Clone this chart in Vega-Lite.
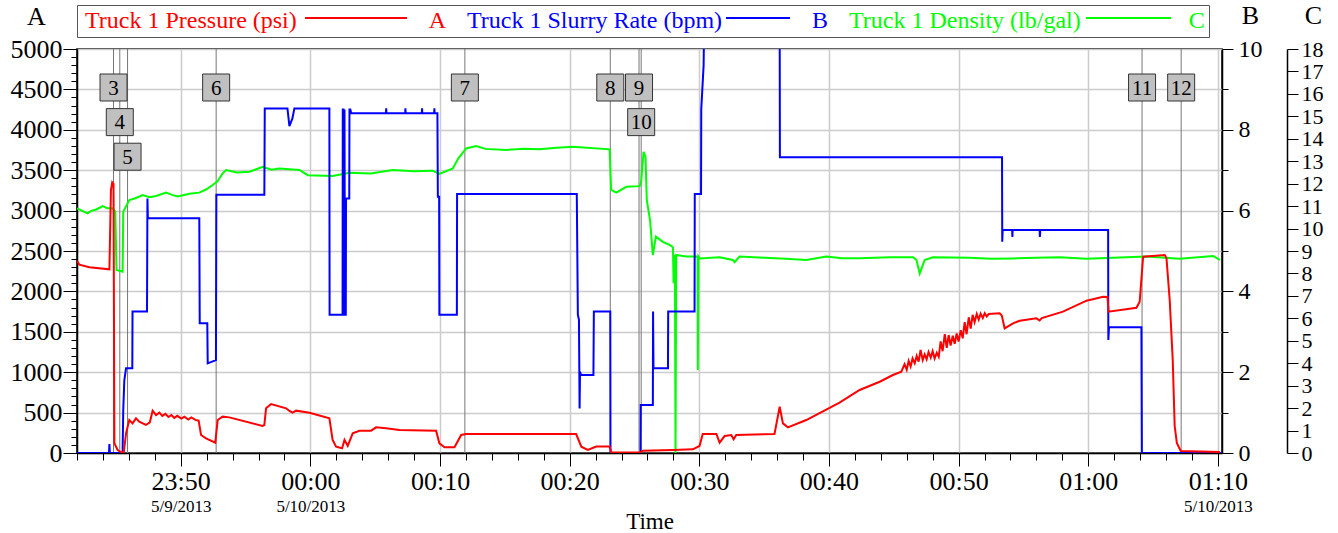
{
  "$schema": "https://vega.github.io/schema/vega-lite/v6.json",
  "width": 1145,
  "height": 404,
  "autosize": {"type": "none"},
  "padding": {"left": 77, "top": 49, "right": 116, "bottom": 80},
  "background": "white",
  "config": {
    "font": "Liberation Serif",
    "view": {"stroke": "black", "strokeWidth": 1.5},
    "axis": {
      "labelFont": "Liberation Serif", "titleFont": "Liberation Serif",
      "labelColor": "black", "titleColor": "black", "domainColor": "black", "tickColor": "black",
      "titleFontWeight": "normal", "labelOverlap": false, "labelFlush": false,
      "domainWidth": 1.5, "tickWidth": 1, "gridColor": "#cccccc", "gridWidth": 1.5
    },
    "legend": {"labelFont": "Liberation Serif"}
  },
  "datasets": {
    "pressure": [
      {"t":"2013-05-09T23:42:00","v":2380},{"t":"2013-05-09T23:42:11","v":2330},{"t":"2013-05-09T23:42:57","v":2298},
      {"t":"2013-05-09T23:44:30","v":2273},{"t":"2013-05-09T23:44:37","v":3250},{"t":"2013-05-09T23:44:43","v":3350},
      {"t":"2013-05-09T23:44:49","v":3330},{"t":"2013-05-09T23:44:53","v":120},{"t":"2013-05-09T23:45:08","v":37},
      {"t":"2013-05-09T23:45:30","v":0},{"t":"2013-05-09T23:45:37","v":20},{"t":"2013-05-09T23:45:47","v":243},
      {"t":"2013-05-09T23:46:02","v":408},{"t":"2013-05-09T23:46:17","v":367},{"t":"2013-05-09T23:46:33","v":429},
      {"t":"2013-05-09T23:46:48","v":388},{"t":"2013-05-09T23:47:19","v":347},{"t":"2013-05-09T23:47:37","v":380},
      {"t":"2013-05-09T23:47:50","v":524},{"t":"2013-05-09T23:48:06","v":470},{"t":"2013-05-09T23:48:21","v":499},
      {"t":"2013-05-09T23:48:35","v":460},{"t":"2013-05-09T23:48:49","v":485},{"t":"2013-05-09T23:49:03","v":445},
      {"t":"2013-05-09T23:49:17","v":470},{"t":"2013-05-09T23:49:30","v":435},{"t":"2013-05-09T23:49:44","v":460},
      {"t":"2013-05-09T23:50:03","v":425},{"t":"2013-05-09T23:50:17","v":450},{"t":"2013-05-09T23:50:35","v":415},
      {"t":"2013-05-09T23:50:49","v":440},{"t":"2013-05-09T23:51:08","v":410},{"t":"2013-05-09T23:51:23","v":400},
      {"t":"2013-05-09T23:51:34","v":223},{"t":"2013-05-09T23:51:57","v":182},{"t":"2013-05-09T23:52:40","v":128},
      {"t":"2013-05-09T23:52:51","v":408},{"t":"2013-05-09T23:53:14","v":450},{"t":"2013-05-09T23:53:45","v":441},
      {"t":"2013-05-09T23:56:19","v":334},{"t":"2013-05-09T23:56:27","v":345},{"t":"2013-05-09T23:56:35","v":553},
      {"t":"2013-05-09T23:56:58","v":606},{"t":"2013-05-09T23:58:08","v":553},{"t":"2013-05-09T23:58:23","v":520},
      {"t":"2013-05-09T23:58:38","v":499},{"t":"2013-05-09T23:58:54","v":524},{"t":"2013-05-09T23:59:56","v":499},
      {"t":"2013-05-10T00:01:28","v":429},{"t":"2013-05-10T00:01:43","v":161},{"t":"2013-05-10T00:01:59","v":78},
      {"t":"2013-05-10T00:02:27","v":58},{"t":"2013-05-10T00:02:38","v":161},{"t":"2013-05-10T00:02:53","v":87},
      {"t":"2013-05-10T00:03:16","v":243},{"t":"2013-05-10T00:03:47","v":276},{"t":"2013-05-10T00:04:41","v":276},
      {"t":"2013-05-10T00:05:04","v":318},{"t":"2013-05-10T00:05:51","v":305},{"t":"2013-05-10T00:06:52","v":285},
      {"t":"2013-05-10T00:09:42","v":276},{"t":"2013-05-10T00:09:57","v":120},{"t":"2013-05-10T00:10:21","v":70},
      {"t":"2013-05-10T00:11:07","v":70},{"t":"2013-05-10T00:11:38","v":223},{"t":"2013-05-10T00:12:01","v":235},
      {"t":"2013-05-10T00:20:30","v":235},{"t":"2013-05-10T00:20:54","v":78},{"t":"2013-05-10T00:21:24","v":37},
      {"t":"2013-05-10T00:22:03","v":80},{"t":"2013-05-10T00:23:05","v":80},{"t":"2013-05-10T00:23:12","v":10},
      {"t":"2013-05-10T00:25:24","v":5},{"t":"2013-05-10T00:25:39","v":28},{"t":"2013-05-10T00:27:58","v":37},
      {"t":"2013-05-10T00:29:30","v":45},{"t":"2013-05-10T00:30:01","v":87},{"t":"2013-05-10T00:30:16","v":235},
      {"t":"2013-05-10T00:31:19","v":235},{"t":"2013-05-10T00:31:34","v":128},{"t":"2013-05-10T00:31:57","v":210},
      {"t":"2013-05-10T00:32:28","v":223},{"t":"2013-05-10T00:32:39","v":169},{"t":"2013-05-10T00:32:51","v":223},
      {"t":"2013-05-10T00:35:48","v":235},{"t":"2013-05-10T00:36:12","v":573},{"t":"2013-05-10T00:36:27","v":367},
      {"t":"2013-05-10T00:36:50","v":318},{"t":"2013-05-10T00:38:15","v":408},{"t":"2013-05-10T00:40:49","v":623},
      {"t":"2013-05-10T00:42:22","v":780},{"t":"2013-05-10T00:43:55","v":882},{"t":"2013-05-10T00:44:56","v":965},
      {"t":"2013-05-10T00:45:35","v":1006},
      {"t":"2013-05-10T00:45:50","v":1100},{"t":"2013-05-10T00:46:00","v":1030},{"t":"2013-05-10T00:46:09","v":1140},
      {"t":"2013-05-10T00:46:18","v":1070},{"t":"2013-05-10T00:46:27","v":1170},{"t":"2013-05-10T00:46:37","v":1110},
      {"t":"2013-05-10T00:46:46","v":1200},{"t":"2013-05-10T00:46:55","v":1130},{"t":"2013-05-10T00:47:04","v":1275},
      {"t":"2013-05-10T00:47:14","v":1150},{"t":"2013-05-10T00:47:23","v":1220},{"t":"2013-05-10T00:47:32","v":1160},
      {"t":"2013-05-10T00:47:41","v":1250},{"t":"2013-05-10T00:47:51","v":1180},{"t":"2013-05-10T00:48:00","v":1260},
      {"t":"2013-05-10T00:48:09","v":1170},{"t":"2013-05-10T00:48:19","v":1240},{"t":"2013-05-10T00:48:28","v":1190},
      {"t":"2013-05-10T00:48:37","v":1380},{"t":"2013-05-10T00:48:46","v":1260},{"t":"2013-05-10T00:48:56","v":1470},
      {"t":"2013-05-10T00:49:05","v":1300},{"t":"2013-05-10T00:49:14","v":1460},{"t":"2013-05-10T00:49:23","v":1330},
      {"t":"2013-05-10T00:49:33","v":1450},{"t":"2013-05-10T00:49:42","v":1350},{"t":"2013-05-10T00:49:51","v":1480},
      {"t":"2013-05-10T00:50:00","v":1380},{"t":"2013-05-10T00:50:10","v":1520},{"t":"2013-05-10T00:50:19","v":1420},
      {"t":"2013-05-10T00:50:28","v":1620},{"t":"2013-05-10T00:50:37","v":1470},{"t":"2013-05-10T00:50:47","v":1680},
      {"t":"2013-05-10T00:50:56","v":1540},{"t":"2013-05-10T00:51:05","v":1710},{"t":"2013-05-10T00:51:14","v":1620},
      {"t":"2013-05-10T00:51:24","v":1720},{"t":"2013-05-10T00:51:33","v":1650},{"t":"2013-05-10T00:51:42","v":1725},
      {"t":"2013-05-10T00:51:52","v":1670},{"t":"2013-05-10T00:52:01","v":1730},{"t":"2013-05-10T00:52:10","v":1690},
      {"t":"2013-05-10T00:52:19","v":1720},
      {"t":"2013-05-10T00:53:10","v":1729},{"t":"2013-05-10T00:53:20","v":1700},{"t":"2013-05-10T00:53:33","v":1543},
      {"t":"2013-05-10T00:54:12","v":1605},{"t":"2013-05-10T00:54:43","v":1637},{"t":"2013-05-10T00:56:00","v":1667},
      {"t":"2013-05-10T00:56:15","v":1640},{"t":"2013-05-10T00:56:25","v":1670},{"t":"2013-05-10T00:58:03","v":1749},
      {"t":"2013-05-10T00:59:52","v":1885},{"t":"2013-05-10T01:01:09","v":1934},{"t":"2013-05-10T01:01:29","v":1930},
      {"t":"2013-05-10T01:01:34","v":1749},{"t":"2013-05-10T01:03:43","v":1798},{"t":"2013-05-10T01:03:58","v":1872},
      {"t":"2013-05-10T01:04:14","v":2429},{"t":"2013-05-10T01:05:54","v":2450},{"t":"2013-05-10T01:06:02","v":2413},
      {"t":"2013-05-10T01:06:17","v":1893},{"t":"2013-05-10T01:06:31","v":1151},{"t":"2013-05-10T01:06:40","v":334},
      {"t":"2013-05-10T01:06:50","v":124},{"t":"2013-05-10T01:07:08","v":25},{"t":"2013-05-10T01:10:09","v":12}
    ],
    "rate": [
      {"t":"2013-05-09T23:42:00","v":0},{"t":"2013-05-09T23:44:28","v":0},{"t":"2013-05-09T23:44:30","v":0.22},
      {"t":"2013-05-09T23:44:32","v":0},{"t":"2013-05-09T23:45:31","v":0},{"t":"2013-05-09T23:45:34","v":1.06},
      {"t":"2013-05-09T23:45:39","v":1.8},{"t":"2013-05-09T23:45:47","v":2.1},{"t":"2013-05-09T23:46:16","v":2.1},
      {"t":"2013-05-09T23:46:17","v":3.5},{"t":"2013-05-09T23:47:24","v":3.5},{"t":"2013-05-09T23:47:26","v":6.3},
      {"t":"2013-05-09T23:47:28","v":5.81},{"t":"2013-05-09T23:51:26","v":5.81},{"t":"2013-05-09T23:51:28","v":3.21},
      {"t":"2013-05-09T23:52:03","v":3.21},{"t":"2013-05-09T23:52:05","v":2.22},{"t":"2013-05-09T23:52:43","v":2.3},
      {"t":"2013-05-09T23:52:45","v":6.39},{"t":"2013-05-09T23:56:27","v":6.39},{"t":"2013-05-09T23:56:29","v":8.53},
      {"t":"2013-05-09T23:58:14","v":8.53},{"t":"2013-05-09T23:58:23","v":8.09},{"t":"2013-05-09T23:58:37","v":8.28},
      {"t":"2013-05-09T23:58:46","v":8.53},{"t":"2013-05-10T00:01:28","v":8.53},{"t":"2013-05-10T00:01:29","v":3.42},
      {"t":"2013-05-10T00:02:29","v":3.42},{"t":"2013-05-10T00:02:30","v":8.5},{"t":"2013-05-10T00:02:33","v":8.5},
      {"t":"2013-05-10T00:02:34","v":3.42},{"t":"2013-05-10T00:02:37","v":3.42},{"t":"2013-05-10T00:02:38","v":8.5},
      {"t":"2013-05-10T00:02:40","v":3.42},{"t":"2013-05-10T00:02:44","v":3.42},{"t":"2013-05-10T00:02:45","v":6.3},
      {"t":"2013-05-10T00:03:00","v":6.3},{"t":"2013-05-10T00:03:01","v":8.5},{"t":"2013-05-10T00:03:05","v":8.5},
      {"t":"2013-05-10T00:03:09","v":8.41},{"t":"2013-05-10T00:05:50","v":8.41},{"t":"2013-05-10T00:05:51","v":8.53},
      {"t":"2013-05-10T00:05:52","v":8.41},{"t":"2013-05-10T00:07:19","v":8.41},{"t":"2013-05-10T00:07:20","v":8.53},
      {"t":"2013-05-10T00:07:21","v":8.41},{"t":"2013-05-10T00:08:36","v":8.41},{"t":"2013-05-10T00:08:37","v":8.53},
      {"t":"2013-05-10T00:08:38","v":8.41},{"t":"2013-05-10T00:09:33","v":8.41},{"t":"2013-05-10T00:09:34","v":8.53},
      {"t":"2013-05-10T00:09:35","v":8.41},{"t":"2013-05-10T00:09:48","v":8.41},{"t":"2013-05-10T00:09:50","v":6.34},
      {"t":"2013-05-10T00:09:56","v":6.34},{"t":"2013-05-10T00:09:57","v":3.42},{"t":"2013-05-10T00:11:18","v":3.42},
      {"t":"2013-05-10T00:11:19","v":6.41},{"t":"2013-05-10T00:20:33","v":6.41},{"t":"2013-05-10T00:20:38","v":3.42},
      {"t":"2013-05-10T00:20:43","v":3.3},{"t":"2013-05-10T00:20:46","v":1.1},{"t":"2013-05-10T00:20:48","v":2.01},
      {"t":"2013-05-10T00:20:53","v":1.93},{"t":"2013-05-10T00:21:50","v":1.93},{"t":"2013-05-10T00:21:52","v":3.5},
      {"t":"2013-05-10T00:23:08","v":3.5},{"t":"2013-05-10T00:23:09","v":0},{"t":"2013-05-10T00:25:28","v":0},
      {"t":"2013-05-10T00:25:29","v":1.19},{"t":"2013-05-10T00:26:25","v":1.19},{"t":"2013-05-10T00:26:26","v":3.5},
      {"t":"2013-05-10T00:26:28","v":2.1},{"t":"2013-05-10T00:27:35","v":2.1},{"t":"2013-05-10T00:27:36","v":3.5},
      {"t":"2013-05-10T00:29:38","v":3.5},{"t":"2013-05-10T00:29:39","v":6.41},{"t":"2013-05-10T00:30:08","v":6.41},
      {"t":"2013-05-10T00:30:09","v":8.5},{"t":"2013-05-10T00:30:20","v":9.6},{"t":"2013-05-10T00:30:22","v":10.6},
      {"t":"2013-05-10T00:36:12","v":10.6},{"t":"2013-05-10T00:36:13","v":7.32},{"t":"2013-05-10T00:53:21","v":7.32},
      {"t":"2013-05-10T00:53:22","v":5.23},{"t":"2013-05-10T00:53:24","v":5.52},{"t":"2013-05-10T00:54:08","v":5.52},
      {"t":"2013-05-10T00:54:09","v":5.35},{"t":"2013-05-10T00:54:10","v":5.52},{"t":"2013-05-10T00:56:15","v":5.52},
      {"t":"2013-05-10T00:56:16","v":5.35},{"t":"2013-05-10T00:56:18","v":5.52},{"t":"2013-05-10T01:01:32","v":5.52},
      {"t":"2013-05-10T01:01:33","v":2.8},{"t":"2013-05-10T01:01:36","v":3.11},{"t":"2013-05-10T01:04:06","v":3.11},
      {"t":"2013-05-10T01:04:08","v":0},{"t":"2013-05-10T01:10:19","v":0}
    ],
    "density": [
      {"t":"2013-05-09T23:42:00","v":10.9},{"t":"2013-05-09T23:42:49","v":10.68},{"t":"2013-05-09T23:43:05","v":10.79},
      {"t":"2013-05-09T23:43:29","v":10.85},{"t":"2013-05-09T23:43:59","v":11.0},{"t":"2013-05-09T23:44:20","v":10.9},
      {"t":"2013-05-09T23:44:45","v":10.9},{"t":"2013-05-09T23:44:57","v":10.75},{"t":"2013-05-09T23:45:03","v":8.15},
      {"t":"2013-05-09T23:45:31","v":8.08},{"t":"2013-05-09T23:45:34","v":10.75},{"t":"2013-05-09T23:46:02","v":11.27},
      {"t":"2013-05-09T23:46:30","v":11.35},{"t":"2013-05-09T23:47:04","v":11.49},{"t":"2013-05-09T23:47:35","v":11.4},
      {"t":"2013-05-09T23:48:06","v":11.45},{"t":"2013-05-09T23:48:52","v":11.6},{"t":"2013-05-09T23:49:20","v":11.5},
      {"t":"2013-05-09T23:49:46","v":11.43},{"t":"2013-05-09T23:50:40","v":11.55},{"t":"2013-05-09T23:51:26","v":11.6},
      {"t":"2013-05-09T23:51:59","v":11.75},{"t":"2013-05-09T23:52:28","v":11.94},{"t":"2013-05-09T23:52:50","v":12.1},
      {"t":"2013-05-09T23:53:14","v":12.46},{"t":"2013-05-09T23:53:30","v":12.61},{"t":"2013-05-09T23:54:20","v":12.5},
      {"t":"2013-05-09T23:55:18","v":12.53},{"t":"2013-05-09T23:56:19","v":12.75},{"t":"2013-05-09T23:57:00","v":12.62},
      {"t":"2013-05-09T23:57:37","v":12.68},{"t":"2013-05-09T23:59:09","v":12.61},{"t":"2013-05-09T23:59:48","v":12.38},
      {"t":"2013-05-10T00:01:43","v":12.34},{"t":"2013-05-10T00:03:01","v":12.49},{"t":"2013-05-10T00:04:40","v":12.45},
      {"t":"2013-05-10T00:06:21","v":12.61},{"t":"2013-05-10T00:08:00","v":12.55},{"t":"2013-05-10T00:09:26","v":12.58},
      {"t":"2013-05-10T00:09:57","v":12.43},{"t":"2013-05-10T00:10:59","v":12.68},{"t":"2013-05-10T00:11:25","v":13.13},
      {"t":"2013-05-10T00:12:01","v":13.57},{"t":"2013-05-10T00:12:47","v":13.68},{"t":"2013-05-10T00:13:30","v":13.55},
      {"t":"2013-05-10T00:15:06","v":13.5},{"t":"2013-05-10T00:16:30","v":13.56},{"t":"2013-05-10T00:17:40","v":13.53},
      {"t":"2013-05-10T00:19:00","v":13.6},{"t":"2013-05-10T00:20:15","v":13.65},{"t":"2013-05-10T00:23:05","v":13.53},
      {"t":"2013-05-10T00:23:12","v":11.72},{"t":"2013-05-10T00:23:36","v":11.6},{"t":"2013-05-10T00:24:22","v":11.86},
      {"t":"2013-05-10T00:25:24","v":11.89},{"t":"2013-05-10T00:25:31","v":12.1},{"t":"2013-05-10T00:25:42","v":13.42},
      {"t":"2013-05-10T00:25:51","v":13.2},{"t":"2013-05-10T00:25:57","v":11.27},{"t":"2013-05-10T00:26:02","v":10.97},
      {"t":"2013-05-10T00:26:12","v":10.38},{"t":"2013-05-10T00:26:25","v":8.82},{"t":"2013-05-10T00:26:39","v":9.64},
      {"t":"2013-05-10T00:27:11","v":9.41},{"t":"2013-05-10T00:27:42","v":9.27},{"t":"2013-05-10T00:27:55","v":9.19},
      {"t":"2013-05-10T00:27:58","v":9.15},{"t":"2013-05-10T00:28:01","v":7.56},{"t":"2013-05-10T00:28:07","v":8.82},
      {"t":"2013-05-10T00:28:10","v":0},{"t":"2013-05-10T00:28:13","v":8.82},{"t":"2013-05-10T00:29:00","v":8.75},
      {"t":"2013-05-10T00:29:52","v":8.75},{"t":"2013-05-10T00:29:53","v":3.7},{"t":"2013-05-10T00:29:56","v":8.75},
      {"t":"2013-05-10T00:30:01","v":8.67},{"t":"2013-05-10T00:31:34","v":8.72},{"t":"2013-05-10T00:32:35","v":8.6},
      {"t":"2013-05-10T00:32:43","v":8.5},{"t":"2013-05-10T00:33:06","v":8.75},{"t":"2013-05-10T00:35:05","v":8.7},
      {"t":"2013-05-10T00:36:40","v":8.66},{"t":"2013-05-10T00:38:15","v":8.6},{"t":"2013-05-10T00:39:48","v":8.75},
      {"t":"2013-05-10T00:41:00","v":8.68},{"t":"2013-05-10T00:42:22","v":8.68},{"t":"2013-05-10T00:44:41","v":8.72},
      {"t":"2013-05-10T00:46:29","v":8.72},{"t":"2013-05-10T00:46:45","v":8.6},{"t":"2013-05-10T00:47:00","v":8.0},
      {"t":"2013-05-10T00:47:23","v":8.6},{"t":"2013-05-10T00:48:01","v":8.72},{"t":"2013-05-10T00:50:51","v":8.7},
      {"t":"2013-05-10T00:52:30","v":8.65},{"t":"2013-05-10T00:54:12","v":8.67},{"t":"2013-05-10T00:56:00","v":8.7},
      {"t":"2013-05-10T00:57:48","v":8.72},{"t":"2013-05-10T00:59:50","v":8.66},{"t":"2013-05-10T01:01:55","v":8.7},
      {"t":"2013-05-10T01:04:29","v":8.75},{"t":"2013-05-10T01:07:04","v":8.65},{"t":"2013-05-10T01:09:38","v":8.78},
      {"t":"2013-05-10T01:10:09","v":8.6}
    ],
    "events": [
      {"t":"2013-05-09T23:44:49","label":"3","level":1},
      {"t":"2013-05-09T23:45:18","label":"4","level":2},
      {"t":"2013-05-09T23:45:54","label":"5","level":3},
      {"t":"2013-05-09T23:52:44","label":"6","level":1},
      {"t":"2013-05-10T00:11:55","label":"7","level":1},
      {"t":"2013-05-10T00:23:08","label":"8","level":1},
      {"t":"2013-05-10T00:25:21","label":"9","level":1},
      {"t":"2013-05-10T00:25:31","label":"10","level":2},
      {"t":"2013-05-10T01:04:09","label":"11","level":1},
      {"t":"2013-05-10T01:07:10","label":"12","level":1}
    ]
  },
  "layer": [
    {
      "data": {"name": "events"},
      "mark": {"type": "rule", "color": "#777777", "strokeWidth": 1},
      "encoding": {
        "x": {"field": "t", "type": "temporal",
              "scale": {"domain": [{"year":2013,"month":5,"date":9,"hours":23,"minutes":42},{"year":2013,"month":5,"date":10,"hours":1,"minutes":10,"seconds":19}], "nice": false},
              "axis": {"orient": "bottom", "values": [
                         {"year":2013,"month":5,"date":9,"hours":23,"minutes":42},{"year":2013,"month":5,"date":9,"hours":23,"minutes":44},
                         {"year":2013,"month":5,"date":9,"hours":23,"minutes":46},{"year":2013,"month":5,"date":9,"hours":23,"minutes":48},
                         {"year":2013,"month":5,"date":9,"hours":23,"minutes":50},{"year":2013,"month":5,"date":9,"hours":23,"minutes":52},
                         {"year":2013,"month":5,"date":9,"hours":23,"minutes":54},{"year":2013,"month":5,"date":9,"hours":23,"minutes":56},
                         {"year":2013,"month":5,"date":9,"hours":23,"minutes":58},{"year":2013,"month":5,"date":10,"hours":0,"minutes":0},
                         {"year":2013,"month":5,"date":10,"hours":0,"minutes":2},{"year":2013,"month":5,"date":10,"hours":0,"minutes":4},
                         {"year":2013,"month":5,"date":10,"hours":0,"minutes":6},{"year":2013,"month":5,"date":10,"hours":0,"minutes":8},
                         {"year":2013,"month":5,"date":10,"hours":0,"minutes":10},{"year":2013,"month":5,"date":10,"hours":0,"minutes":12},
                         {"year":2013,"month":5,"date":10,"hours":0,"minutes":14},{"year":2013,"month":5,"date":10,"hours":0,"minutes":16},
                         {"year":2013,"month":5,"date":10,"hours":0,"minutes":18},{"year":2013,"month":5,"date":10,"hours":0,"minutes":20},
                         {"year":2013,"month":5,"date":10,"hours":0,"minutes":22},{"year":2013,"month":5,"date":10,"hours":0,"minutes":24},
                         {"year":2013,"month":5,"date":10,"hours":0,"minutes":26},{"year":2013,"month":5,"date":10,"hours":0,"minutes":28},
                         {"year":2013,"month":5,"date":10,"hours":0,"minutes":30},{"year":2013,"month":5,"date":10,"hours":0,"minutes":32},
                         {"year":2013,"month":5,"date":10,"hours":0,"minutes":34},{"year":2013,"month":5,"date":10,"hours":0,"minutes":36},
                         {"year":2013,"month":5,"date":10,"hours":0,"minutes":38},{"year":2013,"month":5,"date":10,"hours":0,"minutes":40},
                         {"year":2013,"month":5,"date":10,"hours":0,"minutes":42},{"year":2013,"month":5,"date":10,"hours":0,"minutes":44},
                         {"year":2013,"month":5,"date":10,"hours":0,"minutes":46},{"year":2013,"month":5,"date":10,"hours":0,"minutes":48},
                         {"year":2013,"month":5,"date":10,"hours":0,"minutes":50},{"year":2013,"month":5,"date":10,"hours":0,"minutes":52},
                         {"year":2013,"month":5,"date":10,"hours":0,"minutes":54},{"year":2013,"month":5,"date":10,"hours":0,"minutes":56},
                         {"year":2013,"month":5,"date":10,"hours":0,"minutes":58},{"year":2013,"month":5,"date":10,"hours":1,"minutes":0},
                         {"year":2013,"month":5,"date":10,"hours":1,"minutes":2},{"year":2013,"month":5,"date":10,"hours":1,"minutes":4},
                         {"year":2013,"month":5,"date":10,"hours":1,"minutes":6},{"year":2013,"month":5,"date":10,"hours":1,"minutes":8},
                         {"year":2013,"month":5,"date":10,"hours":1,"minutes":10}],
                       "format": "%H:%M",
                       "labelExpr": "timeFormat(datum.value, '%M') % 10 === 0 ? datum.label : ''",
                       "tickSize": {"condition": {"test": "timeFormat(datum.value, '%M') % 10 === 0", "value": 13}, "value": 7},
                       "grid": true,
                       "gridOpacity": {"condition": {"test": "timeFormat(datum.value, '%M') % 10 === 0", "value": 1}, "value": 0},
                       "labelFontSize": 26, "labelPadding": 2,
                       "title": "Time", "titleFontSize": 23, "titleBaseline": "alphabetic", "titleY": 75}}
      }
    },
    {
      "data": {"name": "density"},
      "mark": {"type": "line", "strokeWidth": 2, "clip": true},
      "encoding": {
        "x": {"field": "t", "type": "temporal",
              "axis": {"orient": "bottom", "values": [{"year":2013,"month":5,"date":9,"hours":23,"minutes":50},{"year":2013,"month":5,"date":10,"hours":0,"minutes":0},{"year":2013,"month":5,"date":10,"hours":1,"minutes":10}],
                       "format": "%-m/%-d/%Y", "ticks": false, "domain": false, "grid": false,
                       "labelFontSize": 17, "labelPadding": 45, "title": null}},
        "y": {"field": "v", "type": "quantitative",
              "scale": {"domain": [0, 18], "nice": false, "zero": true},
              "axis": {"orient": "right", "offset": 65, "tickCount": 36, "format": "d",
                       "labelExpr": "datum.value % 1 === 0 ? datum.label : ''",
                       "tickSize": {"condition": {"test": "datum.value % 1 === 0", "value": 11}, "value": 6},
                       "labelPadding": 3, "labelFontSize": 22, "grid": false,
                       "title": "C", "titleAngle": 0, "titleAlign": "center", "titleBaseline": "alphabetic",
                       "titleX": 26, "titleY": -26, "titleFontSize": 26}},
        "color": {"datum": "Truck 1 Density (lb/gal)", "type": "nominal",
                  "scale": {"domain": ["Truck 1 Pressure (psi)", "Truck 1 Slurry Rate (bpm)", "Truck 1 Density (lb/gal)"], "range": ["#ff0000", "#0000ff", "#00ff00"]},
                  "legend": {"orient": "none", "legendX": 0, "legendY": -44, "direction": "horizontal", "title": null,
                             "symbolType": "stroke", "symbolSize": 576, "symbolStrokeWidth": 2,
                             "labelFont": "Liberation Serif", "labelFontSize": 24, "labelLimit": 600,
                             "labelExpr": "datum.label === 'Truck 1 Pressure (psi)' ? datum.label + '\u00a0\u00a0\u00a0\u00a0\u00a0\u00a0\u00a0\u00a0\u00a0\u00a0\u00a0\u00a0\u00a0\u00a0\u00a0\u00a0\u00a0\u00a0\u00a0\u00a0\u00a0\u00a0A' : datum.label === 'Truck 1 Slurry Rate (bpm)' ? datum.label + '\u00a0\u00a0\u00a0\u00a0\u00a0\u00a0\u00a0\u00a0\u00a0\u00a0\u00a0\u00a0\u00a0\u00a0\u00a0B' : datum.label + '\u00a0\u00a0\u00a0\u00a0\u00a0\u00a0\u00a0\u00a0\u00a0\u00a0\u00a0\u00a0\u00a0\u00a0\u00a0\u00a0\u00a0\u00a0C\u00a0\u00a0\u00a0\u00a0\u00a0\u00a0'",
                             "columnPadding": 16, "padding": 4, "strokeColor": "#555555", "fillColor": "white",
                             "encode": {
                               "labels": {"update": {"fill": {"scale": "color", "field": "value"}, "x": {"value": 4}, "y": {"value": 12}, "baseline": {"value": "middle"}}},
                               "symbols": {"update": {
                                 "x": {"signal": "datum.value === 'Truck 1 Pressure (psi)' ? 275 : datum.value === 'Truck 1 Slurry Rate (bpm)' ? 295 : 283.5"},
                                 "y": {"value": 9},
                                 "size": {"signal": "datum.value === 'Truck 1 Pressure (psi)' ? 10404 : datum.value === 'Truck 1 Slurry Rate (bpm)' ? 4096 : 7225"}}}
                             }}}
      }
    },
    {
      "data": {"name": "rate"},
      "mark": {"type": "line", "strokeWidth": 2, "clip": true},
      "encoding": {
        "x": {"field": "t", "type": "temporal", "axis": null},
        "y": {"field": "v", "type": "quantitative",
              "scale": {"domain": [0, 10], "nice": false, "zero": true},
              "axis": {"orient": "right", "tickCount": 10, "format": "d",
                       "labelExpr": "datum.value % 2 === 0 ? datum.label : ''",
                       "tickSize": {"condition": {"test": "datum.value % 2 === 0", "value": 11}, "value": 6},
                       "labelPadding": 5, "labelFontSize": 24, "grid": false,
                       "title": "B", "titleAngle": 0, "titleAlign": "center", "titleBaseline": "alphabetic",
                       "titleX": 28, "titleY": -26, "titleFontSize": 26}},
        "color": {"datum": "Truck 1 Slurry Rate (bpm)", "type": "nominal"}
      }
    },
    {
      "data": {"name": "pressure"},
      "mark": {"type": "line", "strokeWidth": 2, "clip": true},
      "encoding": {
        "x": {"field": "t", "type": "temporal", "axis": null},
        "y": {"field": "v", "type": "quantitative",
              "scale": {"domain": [0, 5000], "nice": false, "zero": true},
              "axis": {"orient": "left", "tickCount": 50, "format": "d",
                       "labelExpr": "datum.value % 500 === 0 ? datum.label : ''",
                       "tickSize": {"condition": {"test": "datum.value % 500 === 0", "value": 14}, "value": 6},
                       "grid": true,
                       "gridOpacity": {"condition": {"test": "datum.value % 500 === 0", "value": 1}, "value": 0},
                       "labelPadding": 1, "labelFontSize": 26,
                       "title": "A", "titleAngle": 0, "titleAlign": "center", "titleBaseline": "alphabetic",
                       "titleX": -41, "titleY": -25, "titleFontSize": 26}},
        "color": {"datum": "Truck 1 Pressure (psi)", "type": "nominal"}
      }
    },
    {
      "data": {"name": "events"},
      "mark": {"type": "point", "shape": "square", "size": 729, "filled": true, "fill": "#c0c0c0", "stroke": "#333333", "strokeWidth": 1, "opacity": 1},
      "encoding": {
        "x": {"field": "t", "type": "temporal", "axis": null},
        "y": {"field": "level", "type": "quantitative", "axis": null,
              "scale": {"domain": [-0.113, 11.563], "reverse": true, "nice": false, "zero": false}}
      }
    },
    {
      "data": {"name": "events"},
      "mark": {"type": "text", "font": "Liberation Serif", "fontSize": 21, "color": "black", "baseline": "middle", "align": "center", "dy": 1},
      "encoding": {
        "x": {"field": "t", "type": "temporal", "axis": null},
        "y": {"field": "level", "type": "quantitative", "axis": null,
              "scale": {"domain": [-0.113, 11.563], "reverse": true, "nice": false, "zero": false}},
        "text": {"field": "label"}
      }
    }
  ],
  "resolve": {"scale": {"y": "independent"}, "axis": {"x": "independent"}}
}
